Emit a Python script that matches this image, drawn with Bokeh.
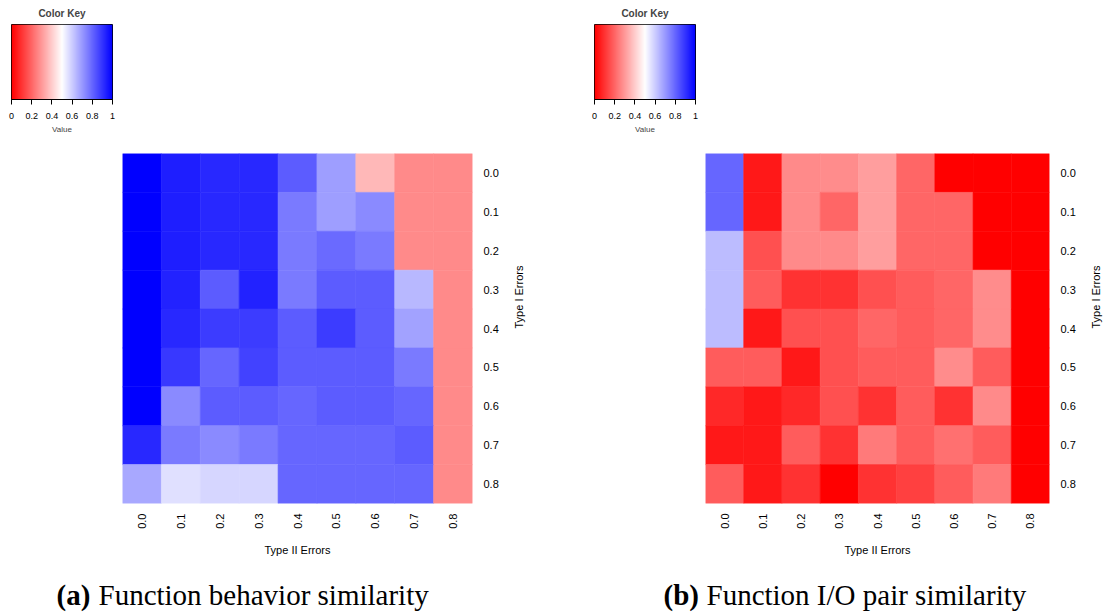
import math
import numpy as np
from bokeh.plotting import figure
from bokeh.layouts import column, row
from bokeh.models import (FactorRange, Range1d, LinearColorMapper, FixedTicker)
from bokeh.transform import linear_cmap
from bokeh.core.properties import value
from bokeh.embed import file_html
from bokeh.resources import INLINE

# ---------------- data ----------------
type1_labels = ["0.0", "0.1", "0.2", "0.3", "0.4", "0.5", "0.6", "0.7", "0.8"]   # rows (Type I Errors)
type2_labels = ["0.0", "0.1", "0.2", "0.3", "0.4", "0.5", "0.6", "0.7", "0.8"]   # columns (Type II Errors)

# (a) Function behavior similarity, one list per Type I error level
behavior_t00 = [1.00, 0.94, 0.92, 0.92, 0.82, 0.69, 0.36, 0.27, 0.27]
behavior_t01 = [1.00, 0.94, 0.92, 0.92, 0.76, 0.69, 0.73, 0.27, 0.27]
behavior_t02 = [1.00, 0.94, 0.92, 0.92, 0.76, 0.79, 0.76, 0.27, 0.27]
behavior_t03 = [1.00, 0.93, 0.82, 0.93, 0.76, 0.82, 0.82, 0.64, 0.27]
behavior_t04 = [1.00, 0.92, 0.88, 0.88, 0.82, 0.88, 0.82, 0.68, 0.27]
behavior_t05 = [1.00, 0.89, 0.80, 0.87, 0.82, 0.82, 0.82, 0.76, 0.27]
behavior_t06 = [1.00, 0.73, 0.82, 0.82, 0.80, 0.82, 0.82, 0.80, 0.27]
behavior_t07 = [0.92, 0.76, 0.73, 0.76, 0.80, 0.80, 0.80, 0.82, 0.27]
behavior_t08 = [0.67, 0.56, 0.58, 0.58, 0.80, 0.80, 0.80, 0.80, 0.27]
behavior_sim = [behavior_t00, behavior_t01, behavior_t02, behavior_t03, behavior_t04,
                behavior_t05, behavior_t06, behavior_t07, behavior_t08]

# (b) Function I/O pair similarity
io_t00 = [0.80, 0.05, 0.27, 0.275, 0.31, 0.20, 0.00, 0.00, 0.00]
io_t01 = [0.80, 0.05, 0.27, 0.20, 0.31, 0.20, 0.20, 0.00, 0.00]
io_t02 = [0.63, 0.16, 0.27, 0.27, 0.31, 0.20, 0.20, 0.00, 0.00]
io_t03 = [0.63, 0.18, 0.10, 0.10, 0.16, 0.18, 0.20, 0.275, 0.00]
io_t04 = [0.63, 0.05, 0.16, 0.16, 0.20, 0.18, 0.20, 0.275, 0.00]
io_t05 = [0.18, 0.18, 0.05, 0.16, 0.18, 0.18, 0.275, 0.18, 0.00]
io_t06 = [0.08, 0.05, 0.08, 0.16, 0.10, 0.18, 0.10, 0.27, 0.00]
io_t07 = [0.05, 0.05, 0.18, 0.10, 0.24, 0.18, 0.22, 0.18, 0.00]
io_t08 = [0.18, 0.05, 0.10, 0.00, 0.10, 0.125, 0.18, 0.24, 0.00]
io_sim = [io_t00, io_t01, io_t02, io_t03, io_t04, io_t05, io_t06, io_t07, io_t08]

key_ticks = [0, 0.2, 0.4, 0.6, 0.8, 1]
key_tick_labels = ["0", "0.2", "0.4", "0.6", "0.8", "1"]

captions = [("(a)", "Function behavior similarity"), ("(b)", "Function I/O pair similarity")]

# ---------------- colour ramp red -> white -> blue ----------------
palette = []
for i in range(256):
    v = i / 255.0
    if v < 0.5:
        g = int(round(255 * v / 0.5))
        palette.append("#%02x%02x%02x" % (255, g, g))
    else:
        g = int(round(255 * (1 - v) / 0.5))
        palette.append("#%02x%02x%02x" % (g, g, 255))

SANS = "Liberation Sans"


def color_key(width, left):
    p = figure(width=width, height=153, x_range=Range1d(0, 1), y_range=Range1d(0, 1),
               output_backend="svg", toolbar_location=None, title="Color Key",
               y_axis_location=None, min_border_left=left, min_border_right=width - left - 101,
               min_border_top=21, min_border_bottom=54)
    mapper = LinearColorMapper(palette=palette, low=0, high=1)
    p.image(image=[np.linspace(0, 1, 256).reshape(1, 256)], x=0, y=0, dw=1, dh=1,
            color_mapper=mapper)
    p.title.align = "center"
    p.title.text_font = SANS
    p.title.text_font_size = "10px"
    p.title.text_font_style = "bold"
    p.title.standoff = 11
    p.title.offset = 0
    p.grid.visible = False
    p.outline_line_color = "black"
    p.outline_line_width = 1
    ax = p.xaxis[0]
    ax.ticker = FixedTicker(ticks=key_ticks)
    ax.major_label_overrides = {t: l for t, l in zip(key_ticks, key_tick_labels)}
    ax.major_tick_out = 5
    ax.major_tick_in = 0
    ax.minor_tick_line_color = None
    ax.axis_line_color = "black"
    ax.major_label_text_font = SANS
    ax.major_label_text_font_size = "9px"
    ax.major_label_text_color = "black"
    ax.major_label_standoff = 8
    ax.axis_label = "Value"
    ax.axis_label_text_font = SANS
    ax.axis_label_text_font_size = "8px"
    ax.axis_label_text_font_style = "normal"
    ax.axis_label_standoff = 3
    p.background_fill_color = "white"
    return p


def heatmap(width, right, data):
    xs, ys, vals = [], [], []
    for ri, r in enumerate(data):
        for ci, v in enumerate(r):
            xs.append(type2_labels[ci])
            ys.append(type1_labels[ri])
            vals.append(v)
    p = figure(width=width, height=410, x_range=FactorRange(*type2_labels),
               y_range=FactorRange(*reversed(type1_labels)),
               output_backend="svg", toolbar_location=None, title=None,
               y_axis_location="right", min_border_left=122, min_border_right=right,
               min_border_top=0, min_border_bottom=60)
    cmap = linear_cmap("v", palette, 0, 1)
    p.rect(x="x", y="y", width=1, height=1, source=dict(x=xs, y=ys, v=vals),
           fill_color=cmap, line_color=cmap, line_width=0.6)
    p.grid.visible = False
    p.outline_line_color = None
    for ax in (p.xaxis[0], p.yaxis[0]):
        ax.axis_line_color = None
        ax.major_tick_line_color = None
        ax.minor_tick_line_color = None
        ax.major_tick_out = 0
        ax.major_tick_in = 0
        ax.major_label_text_font = SANS
        ax.major_label_text_font_size = "11px"
        ax.major_label_text_color = "black"
        ax.axis_label_text_font = SANS
        ax.axis_label_text_font_size = "11px"
        ax.axis_label_text_font_style = "normal"
        ax.axis_label_text_color = "black"
    p.xaxis[0].major_label_orientation = math.pi / 2
    p.xaxis[0].major_label_standoff = 10
    p.xaxis[0].axis_label = "Type II Errors"
    p.xaxis[0].axis_label_standoff = 12
    p.yaxis[0].major_label_standoff = 11
    p.yaxis[0].axis_label = "Type I Errors"
    p.yaxis[0].axis_label_standoff = 17
    p.yaxis[0].axis_label_orientation = math.pi / 2
    return p


ck_a = color_key(583, 11)
ck_b = color_key(527, 11)
hm_a = heatmap(583, 111, behavior_sim)
hm_b = heatmap(527, 55, io_sim)

CAP_H = 49
cap = figure(width=1110, height=CAP_H, x_range=Range1d(0, 1110), y_range=Range1d(CAP_H, 0),
             output_backend="svg", toolbar_location=None, title=None,
             x_axis_location=None, y_axis_location=None,
             min_border_left=0, min_border_right=0, min_border_top=0, min_border_bottom=0)
cap.grid.visible = False
cap.outline_line_color = None
cap_x = [56, 663]
cap_gap = [42, 43]
for (tag, txt), x0, gap in zip(captions, cap_x, cap_gap):
    cap.text(x=[x0], y=[31], text=[tag], text_font=value("Liberation Serif"),
             text_font_size="29px", text_font_style="bold", text_baseline="alphabetic",
             text_color="black")
    cap.text(x=[x0 + gap], y=[31], text=[txt], text_font=value("Liberation Serif"),
             text_font_size="29px", text_baseline="alphabetic", text_color="black")

layout = column(row(ck_a, ck_b), row(hm_a, hm_b), cap)
open("out.html", "w").write(file_html(layout, INLINE))
